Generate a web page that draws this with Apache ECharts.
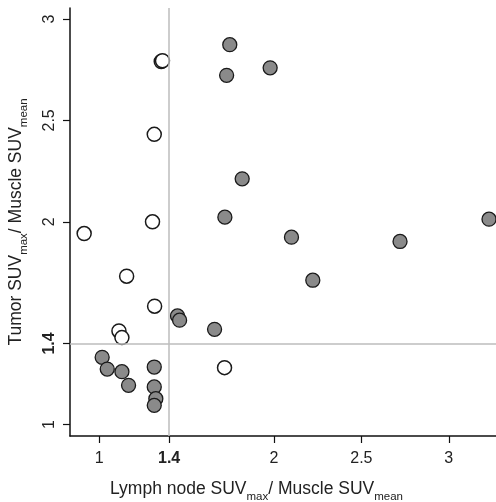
<!DOCTYPE html>
<html><head><meta charset="utf-8">
<script src="https://cdn.jsdelivr.net/npm/echarts@6/dist/echarts.min.js"></script>
<style>html,body{margin:0;padding:0;background:#fff}#c{width:496px;height:502px}</style>
</head><body><div id="c"></div>
<script>
// Tick labels
const xTicks = [1, 1.4, 2, 2.5, 3];
const yTicks = [1, 1.4, 2, 2.5, 3];
const refX = 1.4;
const refY = 1.4;
// Open (white) circles
const openX = [1.355, 1.362, 1.315, 1.305, 0.914, 1.157, 1.317, 1.113, 1.13, 1.717];
const openY = [2.79, 2.794, 2.431, 2.0, 1.942, 1.732, 1.584, 1.462, 1.429, 1.281];
// Filled (grey) circles
const filledX = [1.747, 1.729, 1.978, 1.818, 1.719, 2.10, 2.721, 3.23, 2.222, 1.66, 1.448, 1.46, 1.017, 1.046, 1.13, 1.168, 1.315, 1.315, 1.324, 1.315];
const filledY = [2.873, 2.722, 2.759, 2.212, 2.023, 1.924, 1.903, 2.013, 1.712, 1.47, 1.536, 1.515, 1.332, 1.274, 1.261, 1.194, 1.284, 1.186, 1.128, 1.095];

const FONT = '"Liberation Sans", Arial, Helvetica, sans-serif';
const TXT = '#222';
const zip = (a, b) => a.map((v, i) => [v, b[i]]);
const tickFmt = v => (Math.abs(v - 1.4) < 1e-9 ? '{b|1.4}' : String(v));
const nameRich = {
  t: { fontSize: 17.5, lineHeight: 20, color: TXT, fontFamily: FONT },
  s: { fontSize: 11.5, lineHeight: 20, padding: [15, 0, 0, 0], color: TXT, fontFamily: FONT }
};
const labelRich = { b: { fontWeight: 'bold', fontSize: 16, color: TXT, fontFamily: FONT } };

const chart = echarts.init(document.getElementById('c'), null, { renderer: 'canvas' });
chart.setOption({
  animation: false,
  backgroundColor: '#fff',
  grid: { left: 70, right: 0, top: 8, bottom: 66, containLabel: false, outerBoundsMode: 'none' },
  xAxis: {
    type: 'value', min: 0.833, max: 3.27,
    name: '{t|Lymph node SUV}{s|max}{t|/ Muscle SUV}{s|mean}',
    nameLocation: 'middle', nameGap: 43,
    nameTextStyle: { rich: nameRich, padding: [0, 53, 0, 0] },
    axisLine: { onZero: false, lineStyle: { color: '#111', width: 1.5 } },
    axisTick: { show: true, length: 7, customValues: xTicks, lineStyle: { color: '#111', width: 1.2 } },
    axisLabel: { customValues: xTicks, formatter: tickFmt, margin: 14.5, fontSize: 16, color: TXT, fontFamily: FONT, rich: labelRich },
    splitLine: { show: false }
  },
  yAxis: {
    type: 'value', min: 0.944, max: 3.054,
    name: '{t|Tumor SUV}{s|max}{t|/ Muscle SUV}{s|mean}',
    nameLocation: 'middle', nameGap: 44,
    nameTextStyle: { rich: nameRich },
    axisLine: { onZero: false, lineStyle: { color: '#111', width: 1.5 } },
    axisTick: { show: true, length: 7, customValues: yTicks, lineStyle: { color: '#111', width: 1.2 } },
    axisLabel: { customValues: yTicks, formatter: tickFmt, rotate: 90, margin: 12, fontSize: 16, color: TXT, fontFamily: FONT, rich: labelRich },
    splitLine: { show: false }
  },
  series: [
    {
      type: 'scatter', data: [], z: 1, silent: true,
      markLine: {
        silent: true, symbol: 'none', label: { show: false },
        lineStyle: { color: '#bdbdbd', width: 1.5, type: 'solid' },
        data: [{ xAxis: refX }, { yAxis: refY }]
      }
    },
    {
      type: 'scatter', z: 3, symbol: 'circle', symbolSize: 14,
      itemStyle: { color: '#8a8a8a', borderColor: '#1a1a1a', borderWidth: 1.3, opacity: 1 },
      data: zip(filledX, filledY)
    },
    {
      type: 'scatter', z: 3, symbol: 'circle', symbolSize: 14,
      itemStyle: { color: '#ffffff', borderColor: '#1a1a1a', borderWidth: 1.5, opacity: 1 },
      data: zip(openX, openY)
    }
  ]
});
</script>
</body></html>
